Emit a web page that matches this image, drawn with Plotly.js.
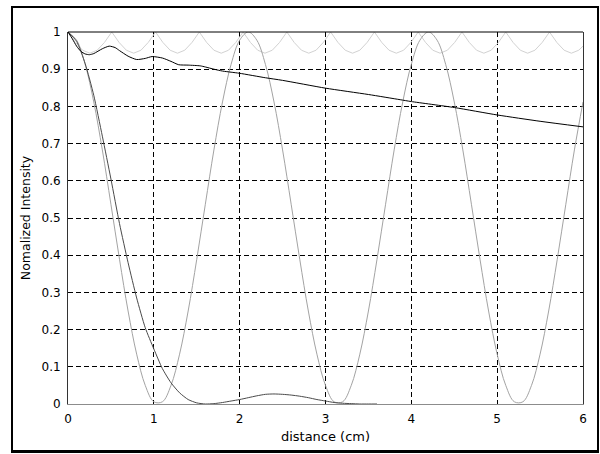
<!DOCTYPE html>
<html>
<head>
<meta charset="utf-8">
<script src="https://cdn.plot.ly/plotly-3.0.1.min.js"></script>
<style>
  html, body { margin: 0; padding: 0; background: #fff; }
  #wrap { position: relative; width: 600px; height: 454px; }
  #chart { position: absolute; left: 0; top: 0; width: 600px; height: 454px; }
  #frame { position: absolute; left: 11px; top: 6px; width: 588px; height: 447px;
           box-sizing: border-box; border: 2px solid #000; border-bottom-width: 3px; pointer-events: none; }
</style>
</head>
<body>
<div id="wrap"><div id="chart"></div><div id="frame"></div></div>
<script>
// ---- data ----
const xTicks = [0, 1, 2, 3, 4, 5, 6];
const yTicks = [0, 0.1, 0.2, 0.3, 0.4, 0.5, 0.6, 0.7, 0.8, 0.9, 1];

// light scalloped curve near 1 (sampled every 0.085 cm)
const scallopY = [
  1, 0.972, 0.951, 0.943, 0.951, 0.972,
  1, 0.972, 0.951, 0.943, 0.951, 0.972,
  1, 0.972, 0.951, 0.943, 0.951, 0.972,
  1, 0.972, 0.951, 0.943, 0.951, 0.972,
  1, 0.972, 0.951, 0.943, 0.951, 0.972,
  1, 0.972, 0.951, 0.943, 0.951, 0.972,
  1, 0.972, 0.951, 0.943, 0.951, 0.972,
  1, 0.972, 0.951, 0.943, 0.951, 0.972,
  1, 0.972, 0.951, 0.943, 0.951, 0.972,
  1, 0.972, 0.951, 0.943, 0.951, 0.972,
  1, 0.972, 0.951, 0.943, 0.951, 0.972,
  1, 0.972, 0.951, 0.943, 0.951, 0.962
];

// medium grey oscillating curve (every 0.1 cm)
const oscY = [
  1, 0.978, 0.913, 0.812, 0.683, 0.537, 0.389, 0.25, 0.134, 0.05, 0.006,
  0.006, 0.05, 0.134, 0.25, 0.389, 0.537, 0.683, 0.812, 0.913, 0.978,
  1, 0.978, 0.913, 0.812, 0.683, 0.537, 0.389, 0.25, 0.134, 0.05, 0.006,
  0.006, 0.05, 0.134, 0.25, 0.389, 0.537, 0.683, 0.812, 0.913, 0.978,
  1, 0.978, 0.913, 0.812, 0.683, 0.537, 0.389, 0.25, 0.134, 0.05, 0.006,
  0.006, 0.05, 0.134, 0.25, 0.389, 0.537, 0.683, 0.812
];

// dark grey fast-decaying curve (every 0.1 cm, 0 to 3.6)
const darkY = [
  1, 0.975, 0.915, 0.83, 0.72, 0.605, 0.485, 0.38, 0.285, 0.205,
  0.148, 0.095, 0.057, 0.03, 0.012, 0.003, 0.0, 0.001, 0.004, 0.008,
  0.012, 0.017, 0.022, 0.026, 0.027, 0.026, 0.024, 0.021, 0.017, 0.012,
  0.008, 0.004, 0.002, 0.001, 0.0, 0.0, 0.0
];

// black slowly-decaying curve
const blackX = [0, 0.05, 0.1, 0.15, 0.2, 0.25, 0.3, 0.4, 0.48, 0.55, 0.6, 0.7, 0.8, 0.9, 0.98, 1.1, 1.2, 1.29, 1.4, 1.54, 1.6, 1.7, 1.8, 1.9, 2.0, 2.3, 2.5, 3.0, 3.5, 3.87, 4.0, 4.5, 5.0, 5.5, 6.0];
const blackY = [1, 0.982, 0.962, 0.948, 0.941, 0.939, 0.942, 0.955, 0.962, 0.958, 0.95, 0.935, 0.926, 0.929, 0.934, 0.93, 0.921, 0.912, 0.911, 0.909, 0.906, 0.9, 0.895, 0.892, 0.889, 0.877, 0.87, 0.849, 0.832, 0.818, 0.813, 0.797, 0.777, 0.76, 0.745];

const scallopX = scallopY.map((_, i) => Math.min(i * 0.085, 6));
const oscX = oscY.map((_, i) => i / 10);
const darkX = darkY.map((_, i) => i / 10);

const traces = [
  { x: scallopX, y: scallopY, mode: 'lines', line: { color: '#d2d2d2', width: 1 }, hoverinfo: 'skip' },
  { x: oscX, y: oscY, mode: 'lines', line: { color: '#a3a3a3', width: 1, shape: 'spline', smoothing: 1 }, hoverinfo: 'skip' },
  { x: darkX, y: darkY, mode: 'lines', line: { color: '#4a4a4a', width: 1, shape: 'spline', smoothing: 0.6 }, hoverinfo: 'skip' },
  { x: blackX, y: blackY, mode: 'lines', line: { color: '#000000', width: 1, shape: 'spline', smoothing: 0.6 }, hoverinfo: 'skip' }
];

const tickFont = { family: 'DejaVu Sans, sans-serif', size: 12, color: '#000' };
const layout = {
  width: 600, height: 454,
  margin: { l: 68, r: 17, t: 32, b: 50, pad: 0 },
  paper_bgcolor: '#fff', plot_bgcolor: '#fff',
  showlegend: false,
  xaxis: {
    range: [0, 6], tickvals: xTicks, ticktext: xTicks.map(String),
    showgrid: true, gridcolor: '#000', griddash: '5px,3px', gridwidth: 1,
    zeroline: false, showline: true, linecolor: '#8c8c8c', linewidth: 1, mirror: false,
    ticks: '', tickfont: tickFont, ticklabelstandoff: 4,
    title: { text: 'distance (cm)', font: { family: 'DejaVu Sans, sans-serif', size: 13, color: '#000' }, standoff: 6 }
  },
  yaxis: {
    range: [0, 1], tickvals: yTicks, ticktext: yTicks.map(v => String(v)),
    showgrid: true, gridcolor: '#000', griddash: '5px,3px', gridwidth: 1,
    zeroline: false, showline: true, linecolor: '#333', linewidth: 1, mirror: true,
    ticks: '', tickfont: tickFont, ticklabelstandoff: 4,
    title: { text: 'Nomalized Intensity', font: { family: 'DejaVu Sans, sans-serif', size: 12.5, color: '#000' }, standoff: 8 }
  },
  shapes: [
    { type: 'line', xref: 'paper', yref: 'paper', x0: 0, x1: 1, y0: 1, y1: 1, line: { color: '#000', width: 1 } }
  ]
};

Plotly.newPlot('chart', traces, layout, { staticPlot: true, displayModeBar: false });
</script>
</body>
</html>
